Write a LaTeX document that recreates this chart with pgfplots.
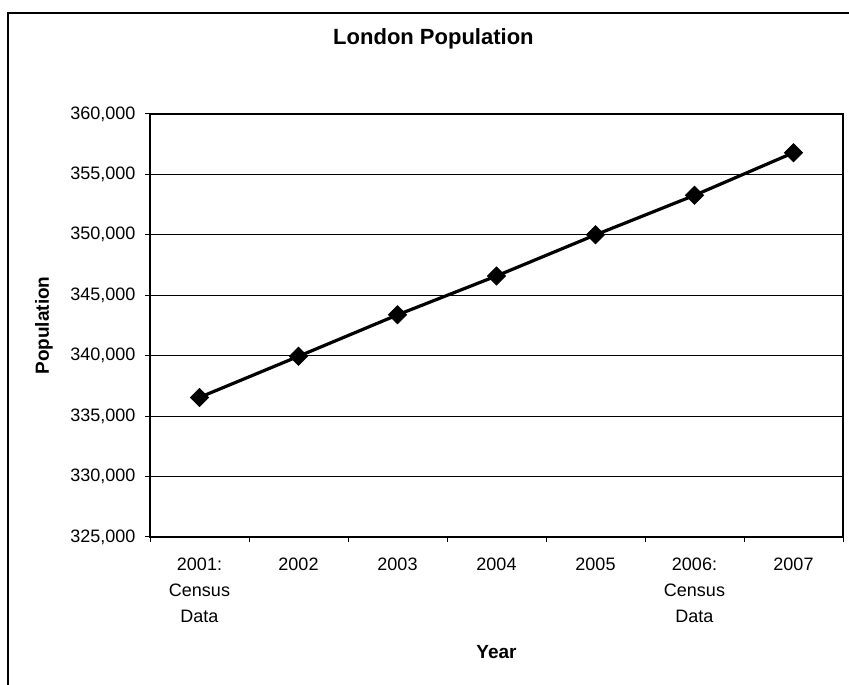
\documentclass[border=0pt]{standalone}
\usepackage{fontspec}
\setmainfont{Liberation Sans}
\usepackage{pgfplots}
\pgfplotsset{compat=1.18}
\begin{document}
\begin{tikzpicture}[x=1pt,y=1pt]
\useasboundingbox (0,0) rectangle (849,685);
\draw[line width=1.5pt] (8,0) -- (8,672) -- (849,672);
\begin{axis}[
  at={(150pt,148pt)}, anchor=south west,
  scale only axis, width=693pt, height=423pt,
  xmin=-0.5, xmax=6.5, ymin=325000, ymax=360000,
  xtick={0,...,6},
  xticklabels={{2001:\\Census\\Data},2002,2003,2004,2005,{2006:\\Census\\Data},2007},
  minor xtick={-0.5,0.5,...,6.5},
  major x tick style={draw=none},
  ytick={325000,330000,...,360000},
  scaled y ticks=false,
  tick align=outside,
  major tick length=5pt, minor tick length=5pt,
  xtick pos=bottom, ytick pos=left,
  ymajorgrids, grid style={black, line width=1pt},
  axis line style={line width=1.3pt},
  tick style={black, line width=1pt},
  yticklabel={\pgfmathprintnumber[fixed,1000 sep={,},assume math mode=true]{\tick}},
  ticklabel style={font=\fontsize{18}{26}\selectfont},
  xticklabel style={align=center, yshift=-12pt},
  yticklabel style={xshift=-6pt},
  title={London Population},
  title style={font=\fontsize{22}{26}\selectfont\bfseries, at={(axis description cs:0.409,1.163)}, anchor=center},
  xlabel={Year},
  xlabel style={font=\fontsize{19}{23}\selectfont\bfseries, at={(axis description cs:0.5,-0.272)}, anchor=center},
  ylabel={Population},
  ylabel style={font=\fontsize{19}{23}\selectfont\bfseries, at={(axis description cs:-0.153,0.5)}, anchor=center, rotate=0},
]
\addplot[black, line width=3.2pt, mark=square*, mark size=6.4pt, mark options={solid, fill=black, line width=0.8pt, rotate=45}]
coordinates {(0,336550) (1,339950) (2,343380) (3,346600) (4,350000) (5,353270) (6,356800)};
\end{axis}
\end{tikzpicture}
\end{document}
